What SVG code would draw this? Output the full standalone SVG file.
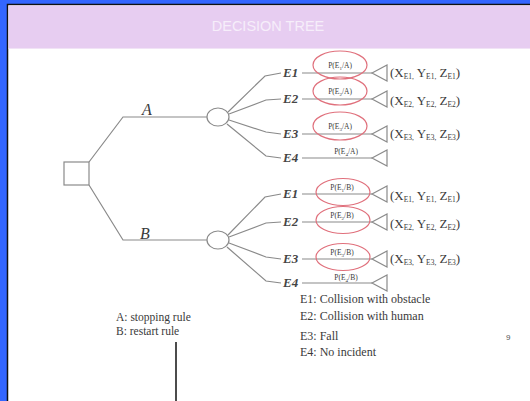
<svg xmlns="http://www.w3.org/2000/svg" width="530" height="401" viewBox="0 0 530 401">
  <defs>
    <style>
      .ln{stroke:#8a8a8a;stroke-width:1.2;fill:none}
      .mark{stroke:#e0707c;stroke-width:1.2;fill:none}
      .serif{font-family:"Liberation Serif","Times New Roman",serif;fill:#3a3a3a}
      .ev{font-size:13px;font-style:italic;font-weight:bold;fill:#454545}
      .br{font-size:16px;font-style:italic}
      .prob{font-size:7.5px;text-anchor:middle}
      .out{font-size:13px}
      .sub{font-size:7.5px}
      .psub{font-size:5px}
      .leg{font-size:12px}
      .rule{font-size:11.5px}
    </style>
    <path id="tri" class="ln" d="M0,0 L15,-8 L15,8 Z"/>
  </defs>

  <!-- backdrop and slide frame -->
  <rect x="0" y="0" width="530" height="401" fill="#3366ff"/>
  <rect x="7.5" y="4.5" width="530" height="400" fill="#ffffff" stroke="#111111" stroke-width="1.5"/>
  <rect x="8.5" y="5.5" width="522" height="43" fill="#e7cdf1"/>
  <line x1="8.5" y1="48.5" x2="530" y2="48.5" stroke="#f1e3f6" stroke-width="1"/>
  <text x="268" y="31" text-anchor="middle" font-family="'Liberation Sans',Arial,sans-serif" font-size="14.5" fill="#f6eefa">DECISION TREE</text>

  <!-- connectors -->
  <g id="connectors">
    <polyline class="ln" points="89,162 123,117 207,117"/>
    <polyline class="ln" points="89,185 123,240 207,240"/>
    <!-- branches of chance node A -->
    <polyline class="ln" points="228,112 265,76 281,73"/>
    <polyline class="ln" points="229,114 266,100 281,99"/>
    <polyline class="ln" points="229,120 266,132 281,134"/>
    <polyline class="ln" points="227,124 266,156 281,158"/>
    <!-- branches of chance node B -->
    <polyline class="ln" points="228,235 265,197 281,194"/>
    <polyline class="ln" points="229,237 266,223 281,222"/>
    <polyline class="ln" points="229,243 266,257 281,259"/>
    <polyline class="ln" points="227,247 266,281 281,283"/>
    <!-- outcome lines to terminals -->
    <line class="ln" x1="302" y1="73" x2="372" y2="73"/>
    <line class="ln" x1="302" y1="99" x2="372" y2="99"/>
    <line class="ln" x1="302" y1="134" x2="372" y2="134"/>
    <line class="ln" x1="302" y1="158" x2="372" y2="158"/>
    <line class="ln" x1="302" y1="194" x2="372" y2="194"/>
    <line class="ln" x1="302" y1="222" x2="372" y2="222"/>
    <line class="ln" x1="302" y1="259" x2="372" y2="259"/>
    <line class="ln" x1="302" y1="283" x2="372" y2="283"/>
    <text class="serif br" x="142" y="115">A</text>
    <text class="serif br" x="140" y="239">B</text>
  </g>

  <!-- decision node -->
  <g id="decision">
    <rect class="ln" x="64" y="162" width="25" height="23"/>
  </g>

  <!-- chance nodes -->
  <g id="chance-a">
    <ellipse class="ln" cx="218" cy="117" rx="11" ry="9"/>
  </g>
  <g id="chance-b">
    <ellipse class="ln" cx="218" cy="240" rx="11" ry="9"/>
  </g>

  <!-- outcomes under rule A -->
  <g id="a-e1">
    <text class="serif ev" x="283" y="77">E1</text>
    <ellipse class="mark" cx="340" cy="65" rx="27" ry="14"/>
    <text class="serif prob" x="340" y="68">P(E<tspan class="psub" dy="1.5">1</tspan><tspan dy="-1.5">/A)</tspan></text>
    <use href="#tri" x="372" y="73"/>
    <text class="serif out" x="390" y="77">(X<tspan class="sub" dy="2">E1,</tspan><tspan dy="-2"> Y</tspan><tspan class="sub" dy="2">E1,</tspan><tspan dy="-2"> Z</tspan><tspan class="sub" dy="2">E1</tspan><tspan dy="-2">)</tspan></text>
  </g>
  <g id="a-e2">
    <text class="serif ev" x="283" y="103">E2</text>
    <ellipse class="mark" cx="340" cy="91" rx="27" ry="14"/>
    <text class="serif prob" x="340" y="94">P(E<tspan class="psub" dy="1.5">2</tspan><tspan dy="-1.5">/A)</tspan></text>
    <use href="#tri" x="372" y="99"/>
    <text class="serif out" x="390" y="105">(X<tspan class="sub" dy="2">E2,</tspan><tspan dy="-2"> Y</tspan><tspan class="sub" dy="2">E2,</tspan><tspan dy="-2"> Z</tspan><tspan class="sub" dy="2">E2</tspan><tspan dy="-2">)</tspan></text>
  </g>
  <g id="a-e3">
    <text class="serif ev" x="283" y="138">E3</text>
    <ellipse class="mark" cx="340" cy="126" rx="27" ry="14"/>
    <text class="serif prob" x="340" y="129">P(E<tspan class="psub" dy="1.5">3</tspan><tspan dy="-1.5">/A)</tspan></text>
    <use href="#tri" x="372" y="134"/>
    <text class="serif out" x="390" y="138">(X<tspan class="sub" dy="2">E3,</tspan><tspan dy="-2"> Y</tspan><tspan class="sub" dy="2">E3,</tspan><tspan dy="-2"> Z</tspan><tspan class="sub" dy="2">E3</tspan><tspan dy="-2">)</tspan></text>
  </g>
  <g id="a-e4">
    <text class="serif ev" x="283" y="162">E4</text>
    <text class="serif prob" x="346" y="154">P(E<tspan class="psub" dy="1.5">4</tspan><tspan dy="-1.5">/A)</tspan></text>
    <use href="#tri" x="372" y="158"/>
  </g>

  <!-- outcomes under rule B -->
  <g id="b-e1">
    <text class="serif ev" x="283" y="198">E1</text>
    <ellipse class="mark" cx="343" cy="192" rx="27" ry="13.5"/>
    <text class="serif prob" x="342" y="190">P(E<tspan class="psub" dy="1.5">1</tspan><tspan dy="-1.5">/B)</tspan></text>
    <use href="#tri" x="372" y="194"/>
    <text class="serif out" x="390" y="200">(X<tspan class="sub" dy="2">E1,</tspan><tspan dy="-2"> Y</tspan><tspan class="sub" dy="2">E1,</tspan><tspan dy="-2"> Z</tspan><tspan class="sub" dy="2">E1</tspan><tspan dy="-2">)</tspan></text>
  </g>
  <g id="b-e2">
    <text class="serif ev" x="283" y="226">E2</text>
    <ellipse class="mark" cx="343" cy="220" rx="27" ry="13.5"/>
    <text class="serif prob" x="342" y="218">P(E<tspan class="psub" dy="1.5">2</tspan><tspan dy="-1.5">/B)</tspan></text>
    <use href="#tri" x="372" y="222"/>
    <text class="serif out" x="390" y="228">(X<tspan class="sub" dy="2">E2,</tspan><tspan dy="-2"> Y</tspan><tspan class="sub" dy="2">E2,</tspan><tspan dy="-2"> Z</tspan><tspan class="sub" dy="2">E2</tspan><tspan dy="-2">)</tspan></text>
  </g>
  <g id="b-e3">
    <text class="serif ev" x="283" y="263">E3</text>
    <ellipse class="mark" cx="343" cy="257" rx="27" ry="13.5"/>
    <text class="serif prob" x="342" y="255">P(E<tspan class="psub" dy="1.5">3</tspan><tspan dy="-1.5">/B)</tspan></text>
    <use href="#tri" x="372" y="259"/>
    <text class="serif out" x="390" y="263">(X<tspan class="sub" dy="2">E3,</tspan><tspan dy="-2"> Y</tspan><tspan class="sub" dy="2">E3,</tspan><tspan dy="-2"> Z</tspan><tspan class="sub" dy="2">E3</tspan><tspan dy="-2">)</tspan></text>
  </g>
  <g id="b-e4">
    <text class="serif ev" x="283" y="287">E4</text>
    <text class="serif prob" x="346" y="280">P(E<tspan class="psub" dy="1.5">4</tspan><tspan dy="-1.5">/B)</tspan></text>
    <use href="#tri" x="372" y="283"/>
  </g>

  <!-- legend -->
  <g id="legend-rules">
    <text class="serif rule" x="116" y="321">A: stopping rule</text>
    <text class="serif rule" x="116" y="335">B: restart rule</text>
  </g>
  <g id="legend-events">
    <text class="serif leg" x="300" y="303">E1: Collision with obstacle</text>
    <text class="serif leg" x="300" y="320">E2: Collision with human</text>
    <text class="serif leg" x="300" y="340">E3: Fall</text>
    <text class="serif leg" x="300" y="356">E4: No incident</text>
  </g>
  <text x="506" y="340" font-family="'Liberation Sans',Arial,sans-serif" font-size="8" fill="#555">9</text>
  <line x1="176" y1="342" x2="176" y2="401" stroke="#111" stroke-width="1.5"/>
</svg>
